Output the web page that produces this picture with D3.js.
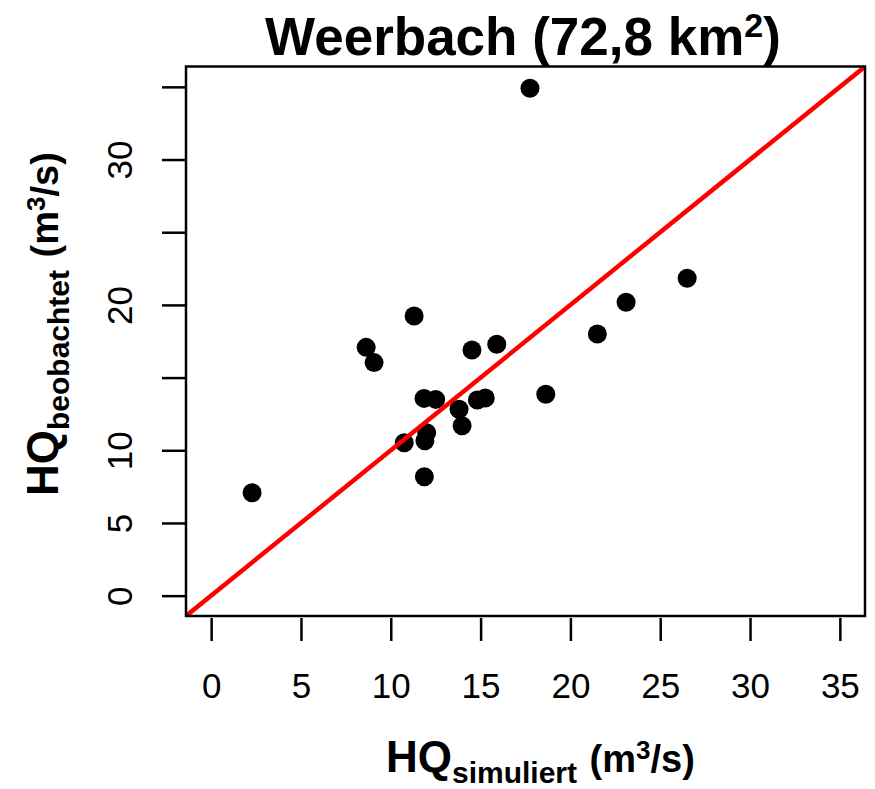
<!DOCTYPE html>
<html>
<head>
<meta charset="utf-8">
<script src="https://cdn.jsdelivr.net/npm/d3@7"></script>
<style>
  html, body { margin: 0; padding: 0; background: #fff; }
  svg { display: block; font-family: "Liberation Sans", Arial, sans-serif; }
</style>
</head>
<body>
<svg id="chart" width="875" height="789"></svg>
<script>
// ---- data ----
const hqSimuliert = [2.28, 8.63, 9.07, 10.75, 11.87, 11.9, 12.0, 11.85, 12.5, 11.3, 13.8, 13.97, 14.52, 14.82, 15.26, 15.9, 17.75, 18.63, 21.5, 23.1, 26.5];
const hqBeobachtet = [7.08, 17.08, 16.03, 10.52, 8.18, 10.65, 11.2, 13.57, 13.5, 19.24, 12.82, 11.69, 16.9, 13.46, 13.6, 17.29, 34.9, 13.85, 18.0, 20.18, 21.83];
const xTicks = [0, 5, 10, 15, 20, 25, 30, 35];
const yTicks = [0, 5, 10, 15, 20, 25, 30, 35];
const yTickLabelsShown = [0, 5, 10, 20, 30];
const axisLimits = [0, 35];

const svg = d3.select("#chart");
const W = 875, H = 789;
const margin = { left: 186, right: 10, top: 66.5, bottom: 173 };

const ext = (axisLimits[1] - axisLimits[0]) * 0.04;
const x = d3.scaleLinear().domain([axisLimits[0] - ext, axisLimits[1] + ext]).range([margin.left, W - margin.right]);
const y = d3.scaleLinear().domain([axisLimits[0] - ext, axisLimits[1] + ext]).range([H - margin.bottom, margin.top]);

svg.append("defs").append("clipPath").attr("id", "plotclip")
  .append("rect")
  .attr("x", x.range()[0]).attr("y", y.range()[1])
  .attr("width", x.range()[1] - x.range()[0])
  .attr("height", y.range()[0] - y.range()[1]);

// points
const pts = hqSimuliert.map((v, i) => [v, hqBeobachtet[i]]);
svg.append("g").selectAll("circle").data(pts).join("circle")
  .attr("cx", d => x(d[0])).attr("cy", d => y(d[1]))
  .attr("r", 9.5).attr("fill", "#000");

// 1:1 line
const dom = x.domain();
svg.append("line")
  .attr("clip-path", "url(#plotclip)")
  .attr("x1", x(dom[0])).attr("y1", y(dom[0]))
  .attr("x2", x(dom[1])).attr("y2", y(dom[1]))
  .attr("stroke", "#ff0000").attr("stroke-width", 4.5);

// box
svg.append("rect")
  .attr("x", x.range()[0]).attr("y", y.range()[1])
  .attr("width", x.range()[1] - x.range()[0])
  .attr("height", y.range()[0] - y.range()[1])
  .attr("fill", "none").attr("stroke", "#000").attr("stroke-width", 2.5);

// x axis
const gx = svg.append("g")
  .attr("transform", `translate(0,${y.range()[0] + 2})`)
  .call(d3.axisBottom(x).tickValues(xTicks).tickSize(23).tickPadding(32).tickFormat(d3.format("d")));
gx.select(".domain").remove();
gx.selectAll(".tick line").attr("stroke", "#000").attr("stroke-width", 2.5);
gx.selectAll(".tick text").attr("font-size", 35).attr("fill", "#000")
  .attr("font-family", "'Liberation Sans', Arial, sans-serif");

// y axis
const gy = svg.append("g")
  .attr("transform", `translate(${x.range()[0]},0)`)
  .call(d3.axisLeft(y).tickValues(yTicks).tickSize(24)
    .tickFormat(d => yTickLabelsShown.includes(d) ? String(d) : ""));
gy.select(".domain").remove();
gy.selectAll(".tick line").attr("stroke", "#000").attr("stroke-width", 2.5);
gy.selectAll(".tick text")
  .attr("font-size", 35).attr("fill", "#000")
  .attr("font-family", "'Liberation Sans', Arial, sans-serif")
  .attr("text-anchor", "middle")
  .attr("x", 0).attr("y", -54).attr("dy", 0)
  .attr("transform", "rotate(-90)");

// title
const title = svg.append("text")
  .attr("x", 523).attr("y", 55)
  .attr("text-anchor", "middle")
  .attr("font-size", 53).attr("font-weight", "bold").attr("fill", "#000");
title.append("tspan").text("Weerbach (72,8 km");
title.append("tspan").attr("font-size", 34).attr("dy", -18).text("2");
title.append("tspan").attr("dy", 18).text(")");

function axisLabel(sel, sub) {
  sel.attr("font-size", 44).attr("font-weight", "bold").attr("fill", "#000");
  sel.append("tspan").text("HQ");
  sel.append("tspan").attr("font-size", 30).attr("dy", 11).text(sub);
  sel.append("tspan").attr("font-size", 38).attr("dy", -11).attr("dx", 2).text(" (m");
  sel.append("tspan").attr("font-size", 26).attr("dy", -13).text("3");
  sel.append("tspan").attr("font-size", 38).attr("dy", 13).text("/s)");
}

// x label
axisLabel(svg.append("text").attr("x", 386).attr("y", 772), "simuliert");

// y label
axisLabel(svg.append("text").attr("transform", "translate(58,496) rotate(-90)"), "beobachtet");
</script>
</body>
</html>
